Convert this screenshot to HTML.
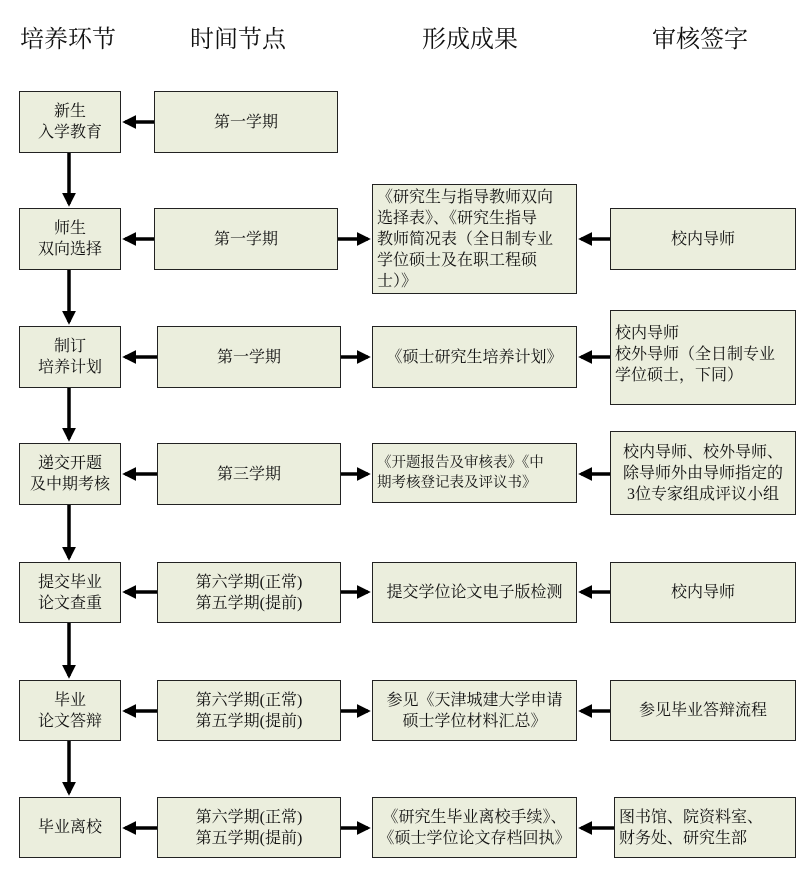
<!DOCTYPE html>
<html><head><meta charset="utf-8"><style>
body{margin:0;width:811px;height:891px;background:#fff;position:relative;overflow:hidden;font-family:"Liberation Serif","Noto Serif CJK SC",serif;}
.b{position:absolute;box-sizing:border-box;border:1.5px solid #222;background:#ebeedd;display:flex;align-items:center;justify-content:center;text-align:center;font-size:16px;line-height:21px;color:#111;white-space:nowrap;}
.l{justify-content:flex-start;text-align:left;padding-left:4px;}
.h{position:absolute;top:19px;font-size:24px;color:#111;width:200px;text-align:center;}
svg{position:absolute;left:0;top:0;}
</style></head><body>
<div class="h" style="left:-32px">培养环节</div>
<div class="h" style="left:138px">时间节点</div>
<div class="h" style="left:370px">形成成果</div>
<div class="h" style="left:600px">审核签字</div>

<div class="b" style="left:19px;top:91px;width:102px;height:62px">新生<br>入学教育</div>
<div class="b" style="left:154px;top:91px;width:184px;height:62px">第一学期</div>

<div class="b" style="left:19px;top:208px;width:102px;height:62px">师生<br>双向选择</div>
<div class="b" style="left:154px;top:208px;width:184px;height:62px">第一学期</div>
<div class="b l" style="left:372px;top:184px;width:205px;height:110px">《研究生与指导教师双向<br>选择表》、《研究生指导<br>教师简况表（全日制专业<br>学位硕士及在职工程硕<br>士）》</div>
<div class="b" style="left:610px;top:208px;width:186px;height:62px">校内导师</div>

<div class="b" style="left:19px;top:326px;width:102px;height:62px">制订<br>培养计划</div>
<div class="b" style="left:157px;top:326px;width:184px;height:62px">第一学期</div>
<div class="b" style="left:372px;top:326px;width:205px;height:62px">《硕士研究生培养计划》</div>
<div class="b l" style="left:610px;top:310px;width:186px;height:95px;align-items:flex-start;padding-top:12px">校内导师<br>校外导师（全日制专业<br>学位硕士，下同）</div>

<div class="b" style="left:19px;top:443px;width:102px;height:62px">递交开题<br>及中期考核</div>
<div class="b" style="left:157px;top:443px;width:184px;height:62px">第三学期</div>
<div class="b l" style="left:372px;top:443px;width:205px;height:60px;font-size:14.5px;line-height:20px">《开题报告及审核表》《中<br>期考核登记表及评议书》</div>
<div class="b" style="left:610px;top:431px;width:186px;height:84px">校内导师、校外导师、<br>除导师外由导师指定的<br>3位专家组成评议小组</div>

<div class="b" style="left:19px;top:562px;width:102px;height:61px">提交毕业<br>论文查重</div>
<div class="b" style="left:157px;top:562px;width:184px;height:61px">第六学期(正常)<br>第五学期(提前)</div>
<div class="b" style="left:372px;top:562px;width:205px;height:61px">提交学位论文电子版检测</div>
<div class="b" style="left:610px;top:562px;width:186px;height:61px">校内导师</div>

<div class="b" style="left:19px;top:680px;width:102px;height:61px">毕业<br>论文答辩</div>
<div class="b" style="left:157px;top:680px;width:184px;height:61px">第六学期(正常)<br>第五学期(提前)</div>
<div class="b" style="left:372px;top:680px;width:205px;height:61px">参见《天津城建大学申请<br>硕士学位材料汇总》</div>
<div class="b" style="left:610px;top:680px;width:186px;height:61px">参见毕业答辩流程</div>

<div class="b" style="left:19px;top:797px;width:102px;height:61px">毕业离校</div>
<div class="b" style="left:157px;top:797px;width:184px;height:61px">第六学期(正常)<br>第五学期(提前)</div>
<div class="b" style="left:372px;top:797px;width:205px;height:61px">《研究生毕业离校手续》、<br>《硕士学位论文存档回执》</div>
<div class="b l" style="left:614px;top:797px;width:182px;height:61px">图书馆、院资料室、<br>财务处、研究生部</div>

<svg width="811" height="891">
<defs><marker id="a" markerWidth="4" markerHeight="4" refX="3.2" refY="2" orient="auto" markerUnits="strokeWidth"><path d="M0,0L4,2L0,4z" fill="#000"/></marker></defs>
<g stroke="#000" stroke-width="3.5" fill="none" marker-end="url(#a)">
<line x1="69" y1="153" x2="69" y2="204"/>
<line x1="69" y1="270" x2="69" y2="322"/>
<line x1="69" y1="388" x2="69" y2="439"/>
<line x1="69" y1="505" x2="69" y2="558"/>
<line x1="69" y1="623" x2="69" y2="676"/>
<line x1="69" y1="741" x2="69" y2="793"/>
<line x1="154" y1="122" x2="125" y2="122"/>
<line x1="154" y1="239" x2="125" y2="239"/>
<line x1="157" y1="357" x2="125" y2="357"/>
<line x1="157" y1="474" x2="125" y2="474"/>
<line x1="157" y1="592" x2="125" y2="592"/>
<line x1="157" y1="711" x2="125" y2="711"/>
<line x1="157" y1="828" x2="125" y2="828"/>
<line x1="338" y1="239" x2="368" y2="239"/>
<line x1="341" y1="357" x2="368" y2="357"/>
<line x1="341" y1="474" x2="368" y2="474"/>
<line x1="341" y1="592" x2="368" y2="592"/>
<line x1="341" y1="711" x2="368" y2="711"/>
<line x1="341" y1="828" x2="368" y2="828"/>
<line x1="610" y1="239" x2="581" y2="239"/>
<line x1="610" y1="357" x2="581" y2="357"/>
<line x1="610" y1="474" x2="581" y2="474"/>
<line x1="610" y1="592" x2="581" y2="592"/>
<line x1="610" y1="711" x2="581" y2="711"/>
<line x1="614" y1="828" x2="581" y2="828"/>
</g></svg>
</body></html>
